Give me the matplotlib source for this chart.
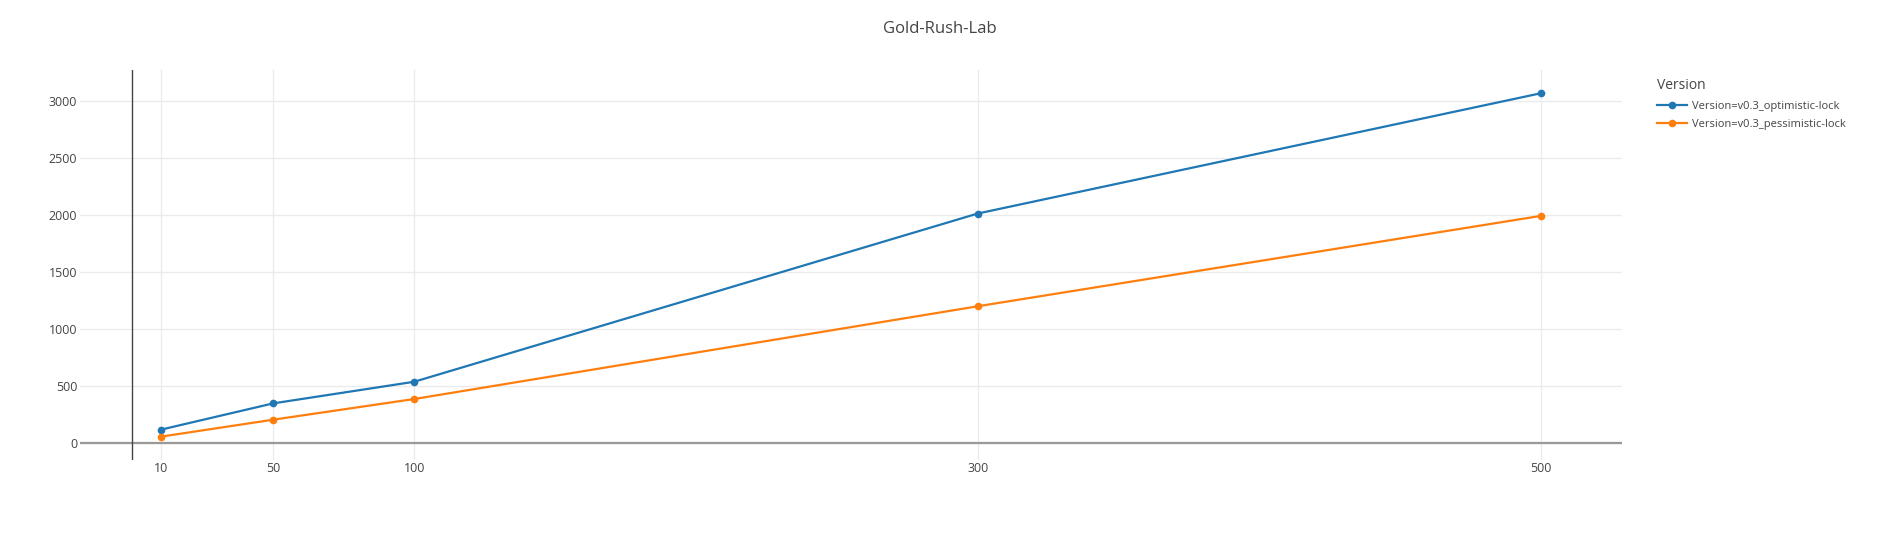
import matplotlib.pyplot as plt

plt.rcParams['font.family'] = ['Open Sans', 'DejaVu Sans']

# 数据
threads = [10, 50, 100, 300, 500]
optimistic = [119, 350, 539, 2012, 3066]
pessimistic = [58, 207, 388, 1200, 1992]
series_names = ['Version=v0.3_optimistic-lock', 'Version=v0.3_pessimistic-lock']
yticks = [0, 500, 1000, 1500, 2000, 2500, 3000]

text_color = '#444444'

fig = plt.figure(figsize=(18.8, 5.6), dpi=100)
ax = fig.add_axes([80 / 1880, 1 - 460 / 560, (1622 - 80) / 1880, (460 - 70) / 560])

ax.plot(threads, optimistic, color='#1f77b4', lw=1.6, marker='o', ms=4.5,
        label=series_names[0], zorder=3)
ax.plot(threads, pessimistic, color='#ff7f0e', lw=1.6, marker='o', ms=4.5,
        label=series_names[1], zorder=3)

ax.set_xlim(-18.6, 528.7)
ax.set_ylim(-146, 3269)
ax.set_xticks(threads)
ax.set_yticks(yticks)

# 网格和轴线
ax.grid(True, color='#ebebeb', lw=1)
ax.set_axisbelow(True)
for s in ax.spines.values():
    s.set_visible(False)
ax.axhline(0, color='#999999', lw=1.6, zorder=2)
ax.axvline(0, color='#444444', lw=1, zorder=2)

ax.tick_params(length=0, labelsize=9, labelcolor=text_color)
ax.tick_params(axis='x', pad=1.5)
ax.tick_params(axis='y', pad=2)

fig.suptitle('Gold-Rush-Lab', x=940 / 1880, y=1 - 29 / 560, va='center',
             fontsize=12, color=text_color)

leg = fig.legend(loc='upper left', bbox_to_anchor=(1647 / 1880, 1 - 68 / 560),
                 title='Version', frameon=False, fontsize=8,
                 title_fontsize=10, handlelength=2.7, handletextpad=0.45,
                 labelspacing=0.68, alignment='left')
for t in leg.get_texts():
    t.set_color(text_color)
leg.get_title().set_color(text_color)

plt.savefig('out.png', dpi=100)
